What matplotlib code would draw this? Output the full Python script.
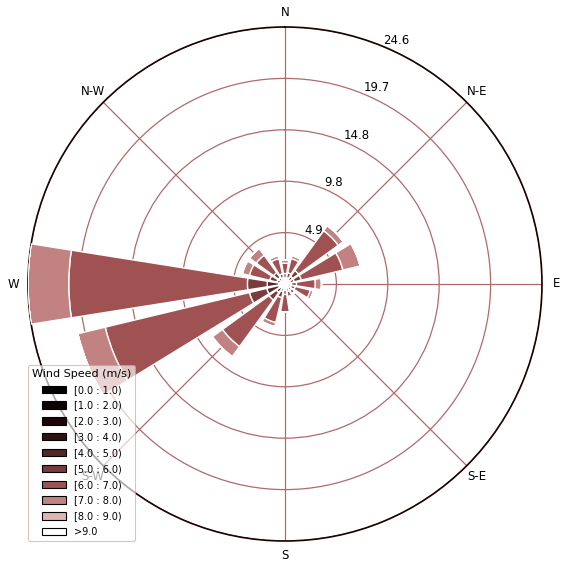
import numpy as np
import matplotlib
matplotlib.use("Agg")
import matplotlib.pyplot as plt
from matplotlib.patches import Patch

directions = ["N", "NNE", "NE", "ENE", "E", "ESE", "SE", "SSE",
              "S", "SSW", "SW", "WSW", "W", "WNW", "NW", "NNW"]
bin_labels = ["[0.0 : 1.0)", "[1.0 : 2.0)", "[2.0 : 3.0)", "[3.0 : 4.0)",
              "[4.0 : 5.0)", "[5.0 : 6.0)", "[6.0 : 7.0)", "[7.0 : 8.0)",
              "[8.0 : 9.0)", ">9.0"]

# frequency (%) per direction for each speed bin
b0 = [0.05, 0.05, 0.1, 0.1, 0.05, 0.05, 0.05, 0.05, 0.05, 0.05, 0.1, 0.2, 0.2, 0.1, 0.05, 0.05]
b1 = [0.05, 0.05, 0.1, 0.1, 0.05, 0.05, 0.05, 0.05, 0.05, 0.1, 0.1, 0.1, 0.1, 0.1, 0.1, 0.05]
b2 = [0.1, 0.1, 0.1, 0.1, 0.1, 0.1, 0.05, 0.05, 0.1, 0.1, 0.1, 0.1, 0.1, 0.1, 0.1, 0.1]
b3 = [0.1, 0.1, 0.2, 0.2, 0.1, 0.1, 0.1, 0.1, 0.1, 0.1, 0.2, 0.2, 0.2, 0.1, 0.1, 0.1]
b4 = [0.3, 0.3, 0.4, 0.4, 0.3, 0.3, 0.2, 0.2, 0.3, 0.4, 0.5, 1.2, 1.1, 0.4, 0.4, 0.3]
b5 = [0.4, 0.5, 0.7, 0.7, 0.5, 0.4, 0.3, 0.3, 0.4, 0.6, 0.9, 1.7, 1.9, 0.7, 0.6, 0.4]
b6 = [1.0, 1.4, 4.7, 4.1, 1.8, 1.5, 0.4, 0.5, 1.7, 2.45, 5.5, 14.2, 17.1, 2.0, 2.05, 1.5]
b7 = [0.3, 0.3, 0.6, 1.7, 0.6, 0.3, 0.1, 0.1, 0.0, 0.4, 1.2, 2.7, 3.9, 0.7, 0.8, 0.3]
b8 = [0.0] * 16
b9 = [0.0] * 16
bins = [b0, b1, b2, b3, b4, b5, b6, b7, b8, b9]

colors = ["#000000", "#0f0000", "#1e0505", "#321010", "#552828",
          "#783c3c", "#a05252", "#c38282", "#e1b4b4", "#ffffff"]

fig = plt.figure(figsize=(5.68, 5.69), dpi=100)
ax = fig.add_axes([28 / 568, 28 / 569, 514 / 568, 514 / 569], projection="polar")
ax.set_theta_zero_location("N")
ax.set_theta_direction(-1)

n = len(directions)
dtheta = 2 * np.pi / n
theta = np.arange(n) * dtheta
width = dtheta * 0.8
offset = np.zeros(n)
for vals, col in zip(bins, colors):
    vals = np.asarray(vals)
    ax.bar(theta, vals, width=width, bottom=offset, color=col,
           edgecolor="white", linewidth=1.0, zorder=3)
    offset = offset + vals

rmax = offset.max()
ax.set_ylim(0, rmax)
radii = np.linspace(0, rmax, 6)[1:]
ax.set_rgrids(radii, labels=["%.1f" % r for r in radii], angle=22.5,
              fontsize=8.5)
ax.set_thetagrids(np.arange(0, 360, 45),
                  labels=["N", "N-E", "E", "S-E", "S", "S-W", "W", "N-W"],
                  fontsize=8.5)
ax.tick_params(axis="x", pad=0)
grid_col = "#b06a6a"
ax.grid(True, color=grid_col, linewidth=0.9, zorder=1)
ax.spines["polar"].set_color("#1a0000")
ax.spines["polar"].set_linewidth(1.2)
ax.set_axisbelow(True)

handles = [Patch(facecolor=c, edgecolor="black", linewidth=0.8) for c in colors]
leg = fig.legend(handles, bin_labels, title="Wind Speed (m/s)",
                 loc="lower left", bbox_to_anchor=(28 / 568, 28 / 569),
                 bbox_transform=fig.transFigure, borderaxespad=0,
                 fontsize=7, title_fontsize=8, handlelength=2.5,
                 handleheight=0.8, labelspacing=0.6, framealpha=0.65,
                 edgecolor="#c9a0a0", fancybox=True)
leg.get_frame().set_linewidth(0.8)

fig.savefig("out.png", dpi=100)
